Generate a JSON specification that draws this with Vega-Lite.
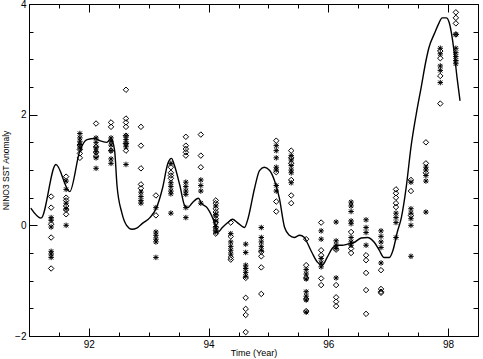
{
  "$schema": "https://vega.github.io/schema/vega-lite/v6.json",
  "width": 449,
  "height": 332,
  "autosize": "none",
  "padding": {"left": 29, "top": 4, "right": 5, "bottom": 23},
  "config": {
    "view": {"stroke": "black", "strokeWidth": 1},
    "font": "Liberation Sans",
    "axis": {"domain": false, "grid": false, "tickColor": "black", "labelColor": "black", "titleColor": "black", "labelFontSize": 10, "titleFontSize": 9, "titleFontWeight": "normal", "tickWidth": 1, "labelFlush": false, "labelOverlap": false, "format": "d"}
  },
  "datasets": {
    "curve": [
      {"t": 91.03, "v": 0.31}, {"t": 91.2, "v": 0.13}, {"t": 91.45, "v": 1.1}, {"t": 91.68, "v": 0.61},
      {"t": 91.85, "v": 1.35}, {"t": 91.97, "v": 1.55}, {"t": 92.1, "v": 1.57}, {"t": 92.18, "v": 1.53},
      {"t": 92.3, "v": 1.5}, {"t": 92.37, "v": 1.57}, {"t": 92.43, "v": 1.35}, {"t": 92.47, "v": 0.72},
      {"t": 92.55, "v": 0.23}, {"t": 92.63, "v": 0.0}, {"t": 92.72, "v": -0.07}, {"t": 92.8, "v": -0.05},
      {"t": 92.9, "v": 0.04}, {"t": 93.02, "v": 0.14}, {"t": 93.13, "v": 0.32}, {"t": 93.23, "v": 0.67},
      {"t": 93.32, "v": 1.12}, {"t": 93.38, "v": 1.21}, {"t": 93.43, "v": 1.08}, {"t": 93.52, "v": 0.72},
      {"t": 93.6, "v": 0.36}, {"t": 93.65, "v": 0.32}, {"t": 93.73, "v": 0.41}, {"t": 93.83, "v": 0.49},
      {"t": 93.88, "v": 0.4}, {"t": 93.98, "v": 0.31}, {"t": 94.1, "v": 0.04}, {"t": 94.15, "v": -0.13},
      {"t": 94.23, "v": -0.04}, {"t": 94.32, "v": 0.05}, {"t": 94.4, "v": 0.11}, {"t": 94.48, "v": 0.05},
      {"t": 94.6, "v": -0.04}, {"t": 94.65, "v": 0.09}, {"t": 94.77, "v": 0.68}, {"t": 94.85, "v": 0.99},
      {"t": 94.93, "v": 1.05}, {"t": 95.02, "v": 0.99}, {"t": 95.1, "v": 0.81}, {"t": 95.18, "v": 0.5},
      {"t": 95.27, "v": -0.04}, {"t": 95.35, "v": -0.18}, {"t": 95.43, "v": -0.22}, {"t": 95.52, "v": -0.18},
      {"t": 95.6, "v": -0.22}, {"t": 95.65, "v": -0.32}, {"t": 95.73, "v": -0.5}, {"t": 95.82, "v": -0.67},
      {"t": 95.9, "v": -0.72}, {"t": 95.98, "v": -0.58}, {"t": 96.07, "v": -0.41}, {"t": 96.15, "v": -0.36},
      {"t": 96.23, "v": -0.36}, {"t": 96.32, "v": -0.34}, {"t": 96.43, "v": -0.31}, {"t": 96.55, "v": -0.23},
      {"t": 96.65, "v": -0.22}, {"t": 96.77, "v": -0.31}, {"t": 96.85, "v": -0.45}, {"t": 96.93, "v": -0.58},
      {"t": 97.02, "v": -0.58}, {"t": 97.08, "v": -0.45}, {"t": 97.15, "v": -0.13}, {"t": 97.22, "v": 0.14},
      {"t": 97.3, "v": 0.68}, {"t": 97.38, "v": 1.41}, {"t": 97.47, "v": 2.02}, {"t": 97.55, "v": 2.49},
      {"t": 97.63, "v": 2.97}, {"t": 97.68, "v": 3.21}, {"t": 97.77, "v": 3.46}, {"t": 97.85, "v": 3.66},
      {"t": 97.9, "v": 3.75}, {"t": 97.97, "v": 3.75}, {"t": 98.02, "v": 3.66}, {"t": 98.1, "v": 3.15},
      {"t": 98.15, "v": 2.67}, {"t": 98.2, "v": 2.25}
    ],
    "obs": [
      {"t": 91.37, "v": 0.52, "k": "D"}, {"t": 91.37, "v": 0.32, "k": "D"}, {"t": 91.37, "v": 0.02, "k": "D"}, {"t": 91.37, "v": -0.22, "k": "D"}, {"t": 91.37, "v": -0.78, "k": "D"},
      {"t": 91.37, "v": 0.14, "k": "A"}, {"t": 91.37, "v": 0.09, "k": "A"}, {"t": 91.37, "v": -0.03, "k": "A"}, {"t": 91.37, "v": -0.47, "k": "A"}, {"t": 91.37, "v": -0.52, "k": "A"}, {"t": 91.37, "v": -0.58, "k": "A"},
      {"t": 91.62, "v": 0.88, "k": "D"}, {"t": 91.62, "v": 0.5, "k": "D"}, {"t": 91.62, "v": 0.45, "k": "D"}, {"t": 91.62, "v": 0.35, "k": "D"}, {"t": 91.62, "v": 0.28, "k": "D"}, {"t": 91.62, "v": 0.2, "k": "D"},
      {"t": 91.62, "v": 0.8, "k": "A"}, {"t": 91.62, "v": 0.65, "k": "A"}, {"t": 91.62, "v": 0.4, "k": "A"}, {"t": 91.62, "v": 0.3, "k": "A"}, {"t": 91.62, "v": 0.0, "k": "A"},
      {"t": 91.85, "v": 1.45, "k": "D"}, {"t": 91.85, "v": 1.37, "k": "D"}, {"t": 91.85, "v": 1.3, "k": "D"}, {"t": 91.85, "v": 1.22, "k": "D"},
      {"t": 91.85, "v": 1.66, "k": "A"}, {"t": 91.85, "v": 1.58, "k": "A"}, {"t": 91.85, "v": 1.52, "k": "A"}, {"t": 91.85, "v": 1.46, "k": "A"}, {"t": 91.85, "v": 1.4, "k": "A"},
      {"t": 92.12, "v": 1.84, "k": "D"}, {"t": 92.12, "v": 1.42, "k": "D"}, {"t": 92.12, "v": 1.32, "k": "D"}, {"t": 92.12, "v": 1.25, "k": "D"},
      {"t": 92.12, "v": 1.58, "k": "A"}, {"t": 92.12, "v": 1.5, "k": "A"}, {"t": 92.12, "v": 1.4, "k": "A"}, {"t": 92.12, "v": 1.33, "k": "A"}, {"t": 92.12, "v": 1.22, "k": "A"}, {"t": 92.12, "v": 1.03, "k": "A"},
      {"t": 92.37, "v": 1.86, "k": "D"}, {"t": 92.37, "v": 1.78, "k": "D"}, {"t": 92.37, "v": 1.35, "k": "D"},
      {"t": 92.37, "v": 1.58, "k": "A"}, {"t": 92.37, "v": 1.52, "k": "A"}, {"t": 92.37, "v": 1.45, "k": "A"}, {"t": 92.37, "v": 1.35, "k": "A"}, {"t": 92.37, "v": 1.2, "k": "A"}, {"t": 92.37, "v": 1.12, "k": "A"},
      {"t": 92.62, "v": 2.45, "k": "D"}, {"t": 92.62, "v": 1.93, "k": "D"}, {"t": 92.62, "v": 1.86, "k": "D"}, {"t": 92.62, "v": 1.78, "k": "D"}, {"t": 92.62, "v": 1.62, "k": "D"}, {"t": 92.62, "v": 1.48, "k": "D"}, {"t": 92.62, "v": 1.35, "k": "D"},
      {"t": 92.62, "v": 1.62, "k": "A"}, {"t": 92.62, "v": 1.55, "k": "A"}, {"t": 92.62, "v": 1.48, "k": "A"}, {"t": 92.62, "v": 1.42, "k": "A"}, {"t": 92.62, "v": 1.1, "k": "A"},
      {"t": 92.87, "v": 1.78, "k": "D"}, {"t": 92.87, "v": 1.44, "k": "D"}, {"t": 92.87, "v": 1.03, "k": "D"}, {"t": 92.87, "v": 0.74, "k": "D"}, {"t": 92.87, "v": 0.67, "k": "D"},
      {"t": 92.87, "v": 0.6, "k": "A"}, {"t": 92.87, "v": 0.52, "k": "A"}, {"t": 92.87, "v": 0.45, "k": "A"}, {"t": 92.87, "v": 0.4, "k": "A"},
      {"t": 93.12, "v": 0.54, "k": "D"}, {"t": 93.12, "v": 0.18, "k": "D"},
      {"t": 93.12, "v": 0.32, "k": "A"}, {"t": 93.12, "v": -0.12, "k": "A"}, {"t": 93.12, "v": -0.18, "k": "A"}, {"t": 93.12, "v": -0.25, "k": "A"}, {"t": 93.12, "v": -0.3, "k": "A"}, {"t": 93.12, "v": -0.58, "k": "A"},
      {"t": 93.37, "v": 1.05, "k": "D"}, {"t": 93.37, "v": 0.95, "k": "D"}, {"t": 93.37, "v": 0.9, "k": "D"}, {"t": 93.37, "v": 0.85, "k": "D"},
      {"t": 93.37, "v": 1.12, "k": "A"}, {"t": 93.37, "v": 0.77, "k": "A"}, {"t": 93.37, "v": 0.7, "k": "A"}, {"t": 93.37, "v": 0.62, "k": "A"}, {"t": 93.37, "v": 0.57, "k": "A"}, {"t": 93.37, "v": 0.22, "k": "A"},
      {"t": 93.62, "v": 1.6, "k": "D"}, {"t": 93.62, "v": 1.44, "k": "D"}, {"t": 93.62, "v": 1.38, "k": "D"}, {"t": 93.62, "v": 1.32, "k": "D"}, {"t": 93.62, "v": 1.26, "k": "D"},
      {"t": 93.62, "v": 0.78, "k": "A"}, {"t": 93.62, "v": 0.7, "k": "A"}, {"t": 93.62, "v": 0.62, "k": "A"}, {"t": 93.62, "v": 0.56, "k": "A"}, {"t": 93.62, "v": 0.32, "k": "A"}, {"t": 93.62, "v": 0.14, "k": "A"},
      {"t": 93.87, "v": 1.64, "k": "D"}, {"t": 93.87, "v": 1.26, "k": "D"}, {"t": 93.87, "v": 1.05, "k": "D"},
      {"t": 93.87, "v": 0.82, "k": "A"}, {"t": 93.87, "v": 0.72, "k": "A"}, {"t": 93.87, "v": 0.62, "k": "A"}, {"t": 93.87, "v": 0.4, "k": "A"},
      {"t": 94.12, "v": 0.45, "k": "D"}, {"t": 94.12, "v": 0.4, "k": "D"}, {"t": 94.12, "v": 0.3, "k": "D"}, {"t": 94.12, "v": 0.24, "k": "D"}, {"t": 94.12, "v": 0.18, "k": "D"}, {"t": 94.12, "v": 0.12, "k": "D"}, {"t": 94.12, "v": 0.05, "k": "D"}, {"t": 94.12, "v": -0.04, "k": "D"}, {"t": 94.12, "v": -0.09, "k": "D"}, {"t": 94.12, "v": -0.15, "k": "D"},
      {"t": 94.12, "v": 0.35, "k": "A"}, {"t": 94.12, "v": 0.2, "k": "A"}, {"t": 94.12, "v": 0.08, "k": "A"}, {"t": 94.12, "v": -0.02, "k": "A"}, {"t": 94.12, "v": -0.12, "k": "A"},
      {"t": 94.37, "v": 0.05, "k": "D"}, {"t": 94.37, "v": -0.2, "k": "D"}, {"t": 94.37, "v": -0.58, "k": "D"}, {"t": 94.37, "v": -0.62, "k": "D"},
      {"t": 94.37, "v": -0.15, "k": "A"}, {"t": 94.37, "v": -0.3, "k": "A"}, {"t": 94.37, "v": -0.38, "k": "A"}, {"t": 94.37, "v": -0.45, "k": "A"}, {"t": 94.37, "v": -0.52, "k": "A"},
      {"t": 94.62, "v": -0.34, "k": "A"}, {"t": 94.62, "v": -0.49, "k": "A"}, {"t": 94.62, "v": -0.72, "k": "A"}, {"t": 94.62, "v": -0.78, "k": "A"}, {"t": 94.62, "v": -0.85, "k": "A"}, {"t": 94.62, "v": -0.92, "k": "A"},
      {"t": 94.62, "v": -0.95, "k": "D"}, {"t": 94.62, "v": -1.31, "k": "D"}, {"t": 94.62, "v": -1.51, "k": "D"}, {"t": 94.62, "v": -1.62, "k": "D"}, {"t": 94.62, "v": -1.93, "k": "D"},
      {"t": 94.88, "v": -0.04, "k": "A"}, {"t": 94.88, "v": -0.22, "k": "A"}, {"t": 94.88, "v": -0.3, "k": "A"}, {"t": 94.88, "v": -0.38, "k": "A"}, {"t": 94.88, "v": -0.45, "k": "A"},
      {"t": 94.88, "v": -0.48, "k": "D"}, {"t": 94.88, "v": -0.56, "k": "D"}, {"t": 94.88, "v": -0.76, "k": "D"}, {"t": 94.88, "v": -1.24, "k": "D"},
      {"t": 95.13, "v": 1.53, "k": "D"}, {"t": 95.13, "v": 0.96, "k": "D"}, {"t": 95.13, "v": 0.43, "k": "D"}, {"t": 95.13, "v": 0.25, "k": "D"},
      {"t": 95.13, "v": 1.44, "k": "A"}, {"t": 95.13, "v": 1.35, "k": "A"}, {"t": 95.13, "v": 1.22, "k": "A"}, {"t": 95.13, "v": 1.05, "k": "A"}, {"t": 95.13, "v": 1.0, "k": "A"}, {"t": 95.13, "v": 0.72, "k": "A"}, {"t": 95.13, "v": 0.62, "k": "A"},
      {"t": 95.38, "v": 1.35, "k": "D"}, {"t": 95.38, "v": 1.22, "k": "D"}, {"t": 95.38, "v": 1.12, "k": "D"}, {"t": 95.38, "v": 0.82, "k": "D"}, {"t": 95.38, "v": 0.54, "k": "D"}, {"t": 95.38, "v": 0.4, "k": "D"},
      {"t": 95.38, "v": 1.26, "k": "A"}, {"t": 95.38, "v": 1.18, "k": "A"}, {"t": 95.38, "v": 1.08, "k": "A"}, {"t": 95.38, "v": 1.0, "k": "A"}, {"t": 95.38, "v": 0.95, "k": "A"}, {"t": 95.38, "v": 0.77, "k": "A"},
      {"t": 95.63, "v": -0.25, "k": "D"}, {"t": 95.63, "v": -0.72, "k": "D"}, {"t": 95.63, "v": -0.95, "k": "D"}, {"t": 95.63, "v": -1.33, "k": "D"}, {"t": 95.63, "v": -1.55, "k": "D"},
      {"t": 95.63, "v": -0.8, "k": "A"}, {"t": 95.63, "v": -0.88, "k": "A"}, {"t": 95.63, "v": -0.97, "k": "A"}, {"t": 95.63, "v": -1.2, "k": "A"}, {"t": 95.63, "v": -1.28, "k": "A"}, {"t": 95.63, "v": -1.35, "k": "A"}, {"t": 95.63, "v": -1.57, "k": "A"},
      {"t": 95.88, "v": 0.05, "k": "D"}, {"t": 95.88, "v": -0.45, "k": "D"}, {"t": 95.88, "v": -0.54, "k": "D"}, {"t": 95.88, "v": -0.96, "k": "D"}, {"t": 95.88, "v": -1.08, "k": "D"},
      {"t": 95.88, "v": -0.1, "k": "A"}, {"t": 95.88, "v": -0.25, "k": "A"}, {"t": 95.88, "v": -0.6, "k": "A"}, {"t": 95.88, "v": -0.68, "k": "A"}, {"t": 95.88, "v": -0.75, "k": "A"},
      {"t": 96.13, "v": 0.06, "k": "A"}, {"t": 96.13, "v": -0.28, "k": "A"}, {"t": 96.13, "v": -0.36, "k": "A"}, {"t": 96.13, "v": -0.42, "k": "A"}, {"t": 96.13, "v": -0.95, "k": "A"},
      {"t": 96.13, "v": -0.44, "k": "D"}, {"t": 96.13, "v": -1.08, "k": "D"}, {"t": 96.13, "v": -1.3, "k": "D"}, {"t": 96.13, "v": -1.38, "k": "D"}, {"t": 96.13, "v": -1.46, "k": "D"},
      {"t": 96.38, "v": 0.42, "k": "A"}, {"t": 96.38, "v": 0.35, "k": "A"}, {"t": 96.38, "v": 0.25, "k": "A"}, {"t": 96.38, "v": 0.08, "k": "A"}, {"t": 96.38, "v": 0.03, "k": "A"}, {"t": 96.38, "v": -0.22, "k": "A"}, {"t": 96.38, "v": -0.3, "k": "A"}, {"t": 96.38, "v": -0.36, "k": "A"},
      {"t": 96.38, "v": -0.12, "k": "D"}, {"t": 96.38, "v": -0.42, "k": "D"}, {"t": 96.38, "v": -0.5, "k": "D"},
      {"t": 96.63, "v": 0.1, "k": "A"}, {"t": 96.63, "v": -0.04, "k": "A"}, {"t": 96.63, "v": -0.13, "k": "A"}, {"t": 96.63, "v": -0.36, "k": "A"},
      {"t": 96.63, "v": -0.54, "k": "D"}, {"t": 96.63, "v": -0.63, "k": "D"}, {"t": 96.63, "v": -0.86, "k": "D"}, {"t": 96.63, "v": -1.17, "k": "D"}, {"t": 96.63, "v": -1.6, "k": "D"},
      {"t": 96.88, "v": -0.1, "k": "A"}, {"t": 96.88, "v": -0.2, "k": "A"}, {"t": 96.88, "v": -0.3, "k": "A"}, {"t": 96.88, "v": -0.4, "k": "A"}, {"t": 96.88, "v": -0.68, "k": "A"},
      {"t": 96.88, "v": -0.81, "k": "D"}, {"t": 96.88, "v": -1.15, "k": "D"}, {"t": 96.88, "v": -1.2, "k": "D"}, {"t": 96.88, "v": -1.22, "k": "D"},
      {"t": 97.13, "v": 0.65, "k": "D"}, {"t": 97.13, "v": 0.58, "k": "D"}, {"t": 97.13, "v": 0.5, "k": "D"}, {"t": 97.13, "v": 0.4, "k": "D"}, {"t": 97.13, "v": 0.33, "k": "D"},
      {"t": 97.13, "v": 0.22, "k": "A"}, {"t": 97.13, "v": 0.14, "k": "A"}, {"t": 97.13, "v": 0.05, "k": "A"}, {"t": 97.13, "v": -0.22, "k": "A"},
      {"t": 97.38, "v": 0.82, "k": "D"}, {"t": 97.38, "v": 0.62, "k": "D"}, {"t": 97.38, "v": 0.18, "k": "D"},
      {"t": 97.38, "v": 0.78, "k": "A"}, {"t": 97.38, "v": 0.3, "k": "A"}, {"t": 97.38, "v": 0.22, "k": "A"}, {"t": 97.38, "v": 0.12, "k": "A"}, {"t": 97.38, "v": 0.0, "k": "A"}, {"t": 97.38, "v": -0.56, "k": "A"},
      {"t": 97.63, "v": 1.5, "k": "D"}, {"t": 97.63, "v": 1.12, "k": "D"}, {"t": 97.63, "v": 0.95, "k": "D"},
      {"t": 97.63, "v": 1.05, "k": "A"}, {"t": 97.63, "v": 1.0, "k": "A"}, {"t": 97.63, "v": 0.9, "k": "A"}, {"t": 97.63, "v": 0.8, "k": "A"}, {"t": 97.63, "v": 0.24, "k": "A"},
      {"t": 97.87, "v": 3.2, "k": "A"}, {"t": 97.87, "v": 3.1, "k": "A"}, {"t": 97.87, "v": 2.88, "k": "A"}, {"t": 97.87, "v": 2.8, "k": "A"}, {"t": 97.87, "v": 2.58, "k": "A"},
      {"t": 97.87, "v": 3.15, "k": "D"}, {"t": 97.87, "v": 3.02, "k": "D"}, {"t": 97.87, "v": 2.7, "k": "D"}, {"t": 97.87, "v": 2.2, "k": "D"},
      {"t": 98.13, "v": 3.85, "k": "D"}, {"t": 98.13, "v": 3.75, "k": "D"}, {"t": 98.13, "v": 3.65, "k": "D"}, {"t": 98.13, "v": 3.45, "k": "D"},
      {"t": 98.13, "v": 3.45, "k": "A"}, {"t": 98.13, "v": 3.2, "k": "A"}, {"t": 98.13, "v": 3.12, "k": "A"}, {"t": 98.13, "v": 3.05, "k": "A"}, {"t": 98.13, "v": 2.98, "k": "A"}, {"t": 98.13, "v": 2.92, "k": "A"}
    ]
  },
  "resolve": {"axis": {"x": "independent", "y": "independent"}},
  "layer": [
    {
      "mark": {"type": "rule", "color": "black", "strokeWidth": 1},
      "encoding": {
        "y": {"datum": 0, "type": "quantitative", "scale": {"domain": [-2, 4], "nice": false, "zero": false}, "axis": null}
      }
    },
    {
      "data": {"name": "curve"},
      "mark": {"type": "line", "color": "black", "strokeWidth": 1.4, "interpolate": "monotone"},
      "encoding": {
        "x": {"field": "t", "type": "quantitative", "scale": {"domain": [91, 98.5], "nice": false, "zero": false},
          "axis": {"orient": "bottom", "values": [92, 94, 96, 98], "offset": -8, "tickSize": 8,
            "labelPadding": 3, "title": "Time (Year)", "titlePadding": -1}},
        "y": {"field": "v", "type": "quantitative", "scale": {"domain": [-2, 4], "nice": false, "zero": false},
          "axis": {"orient": "left", "values": [-2, 0, 2, 4], "offset": -8, "tickSize": 8,
            "labelPadding": 3, "title": "NINO3 SST Anomaly", "titlePadding": 4, "titleFontSize": 8.5}}
      }
    },
    {
      "data": {"name": "curve"},
      "mark": {"type": "point", "opacity": 0},
      "encoding": {
        "x": {"field": "t", "type": "quantitative",
          "axis": {"orient": "bottom", "values": [91, 91.5, 92, 92.5, 93, 93.5, 94, 94.5, 95, 95.5, 96, 96.5, 97, 97.5, 98, 98.5],
            "offset": -4, "tickSize": 4, "labels": false, "title": null}},
        "y": {"field": "v", "type": "quantitative",
          "axis": {"orient": "left", "values": [-2, -1.5, -1, -0.5, 0, 0.5, 1, 1.5, 2, 2.5, 3, 3.5, 4],
            "offset": -4, "tickSize": 4, "labels": false, "title": null}}
      }
    },
    {
      "data": {"name": "curve"},
      "mark": {"type": "point", "opacity": 0},
      "encoding": {
        "x": {"field": "t", "type": "quantitative",
          "axis": {"orient": "top", "values": [91, 91.5, 92, 92.5, 93, 93.5, 94, 94.5, 95, 95.5, 96, 96.5, 97, 97.5, 98, 98.5],
            "offset": -4, "tickSize": 4, "labels": false, "title": null}},
        "y": {"field": "v", "type": "quantitative", "axis": null}
      }
    },
    {
      "data": {"name": "obs"},
      "mark": {"type": "point", "filled": false, "stroke": "black", "strokeWidth": 1, "size": 30, "opacity": 1},
      "encoding": {
        "x": {"field": "t", "type": "quantitative",
          "axis": {"orient": "top", "values": [92, 94, 96, 98], "offset": -8, "tickSize": 8, "labels": false, "title": null}},
        "y": {"field": "v", "type": "quantitative",
          "axis": {"orient": "right", "values": [-2, -1.5, -1, -0.5, 0, 0.5, 1, 1.5, 2, 2.5, 3, 3.5, 4],
            "offset": -5, "tickSize": 5, "labels": false, "title": null}},
        "shape": {"field": "k", "type": "nominal", "legend": null,
          "scale": {"domain": ["D", "A"], "range": ["diamond", "M-1,0L1,0M0,-1L0,1M-0.75,-0.75L0.75,0.75M-0.75,0.75L0.75,-0.75"]}}
      }
    }
  ]
}
